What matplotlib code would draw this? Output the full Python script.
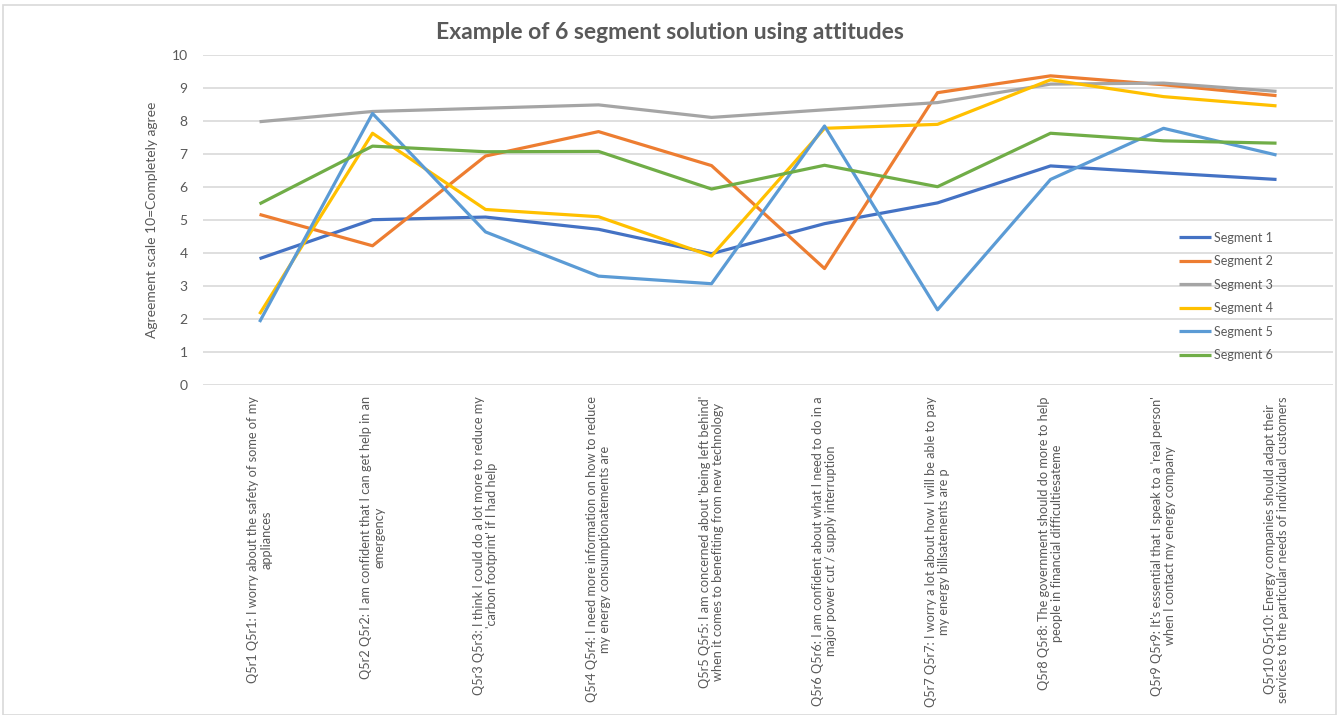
import numpy as np
import matplotlib.pyplot as plt
from matplotlib.patches import Rectangle

plt.rcParams['font.family'] = ['Lato', 'DejaVu Sans']

# Question labels (wrapped as in the original chart)
questions = [
    "Q5r1 Q5r1: I worry about the safety of some of my\nappliances",
    "Q5r2 Q5r2: I am confident that I can get help in an\nemergency",
    "Q5r3 Q5r3: I think I could do a lot more to reduce my\n'carbon footprint' if I had help",
    "Q5r4 Q5r4: I need more information on how to reduce\nmy energy consumptionatements are",
    "Q5r5 Q5r5: I am concerned about 'being left behind'\nwhen it comes to benefiting from new technology",
    "Q5r6 Q5r6: I am confident about what I need to do in a\nmajor power cut / supply interruption",
    "Q5r7 Q5r7: I worry a lot about how I will be able to pay\nmy energy billsatements are p",
    "Q5r8 Q5r8: The government should do more to help\npeople in financial difficultiesateme",
    "Q5r9 Q5r9: It's essential that I speak to a 'real person'\nwhen I contact my energy company",
    "Q5r10 Q5r10: Energy companies should adapt their\nservices to the particular needs of individual customers",
]

# Mean agreement scores per segment
segment_1 = [3.83, 5.01, 5.09, 4.72, 3.98, 4.89, 5.52, 6.64, 6.43, 6.23]
segment_2 = [5.17, 4.22, 6.94, 7.68, 6.65, 3.53, 8.86, 9.37, 9.10, 8.77]
segment_3 = [7.98, 8.29, 8.39, 8.49, 8.11, 8.34, 8.56, 9.12, 9.15, 8.90]
segment_4 = [2.15, 7.63, 5.32, 5.10, 3.91, 7.78, 7.90, 9.25, 8.74, 8.46]
segment_5 = [1.91, 8.23, 4.64, 3.30, 3.07, 7.85, 2.28, 6.23, 7.78, 6.97]
segment_6 = [5.49, 7.24, 7.07, 7.08, 5.94, 6.66, 6.01, 7.63, 7.40, 7.33]

segments = ["Segment 1", "Segment 2", "Segment 3", "Segment 4", "Segment 5", "Segment 6"]
values = [segment_1, segment_2, segment_3, segment_4, segment_5, segment_6]
colors = ["#4472C4", "#ED7D31", "#A5A5A5", "#FFC000", "#5B9BD5", "#70AD47"]

text_col = "#595959"
grid_col = "#D9D9D9"

fig = plt.figure(figsize=(13.4, 7.15), dpi=100)
ax = fig.add_axes([0.1515, 0.4615, 0.8433, 0.4615])

x = np.arange(len(questions))
for name, vals, c in zip(segments, values, colors):
    ax.plot(x, vals, color=c, lw=2.3, label=name, solid_capstyle='butt')

ax.set_xlim(-0.5, len(questions) - 0.5)
ax.set_ylim(0, 10)
ax.set_yticks(range(0, 11))
ax.yaxis.grid(True, color=grid_col, lw=1.2)
ax.set_axisbelow(True)
for s in ax.spines.values():
    s.set_visible(False)
ax.tick_params(length=0, colors=text_col)
ax.tick_params(axis='y', labelsize=10, pad=11)

ax.set_xticks(x)
ax.set_xticklabels(questions, rotation=90, fontsize=9.2, color=text_col,
                   ha='center', va='top', multialignment='center',
                   linespacing=1.15)
ax.tick_params(axis='x', pad=8)

ax.set_ylabel("Agreement scale 10=Completely agree", fontsize=10,
              color=text_col, labelpad=10)

fig.text(0.5, 0.955, "Example of 6 segment solution using attitudes",
         ha='center', va='center', fontsize=16.5, fontweight='bold', color=text_col)

leg = ax.legend(loc='center left', bbox_to_anchor=(0.858, 0.268), frameon=False,
                fontsize=9, handlelength=2.6, handletextpad=0.2,
                labelspacing=0.92, borderpad=0)
for t in leg.get_texts():
    t.set_color(text_col)

# chart border
fig.patches.append(Rectangle((0.002, 0.0), 0.995, 0.993, transform=fig.transFigure,
                             fill=False, edgecolor=grid_col, lw=1.2))

fig.savefig("out.png", dpi=100)
